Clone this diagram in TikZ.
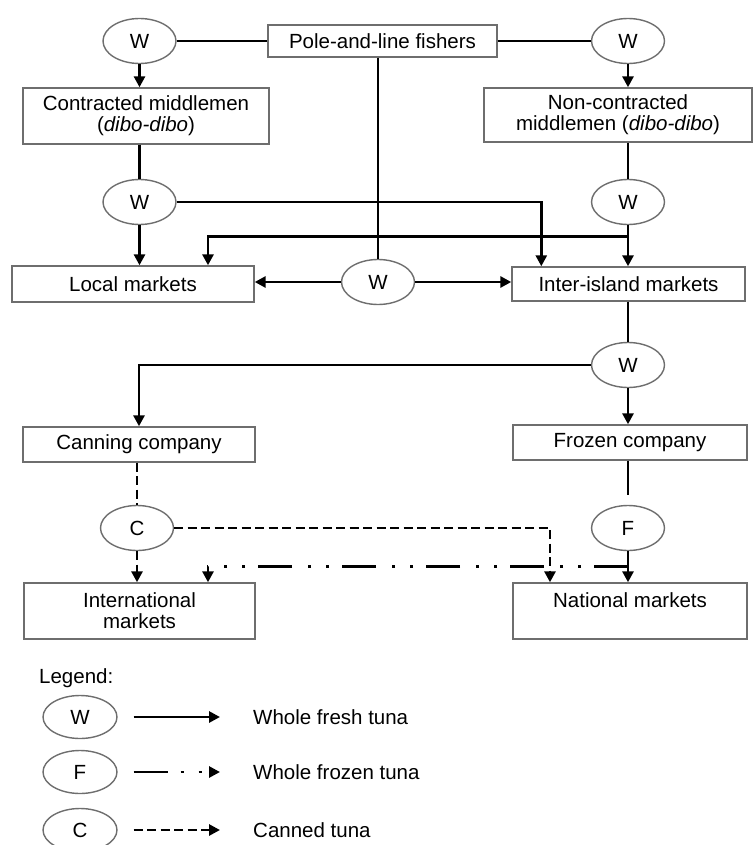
\documentclass[tikz,border=0pt]{standalone}
\usepackage{fontspec}
\setmainfont{Liberation Sans}
\usetikzlibrary{arrows.meta, shapes.geometric, calc}
\definecolor{bGray}{HTML}{6E6E6E}
\tikzset{
  tbox/.style={draw=bGray, line width=1.4pt, rectangle, inner sep=0pt,
               fill=white, align=center, font=\fontsize{20.5}{21}\selectfont},
  tell/.style={draw=bGray, line width=1.4pt, ellipse, minimum width=73pt,
               minimum height=45pt, inner sep=0pt, fill=white,
               font=\fontsize{20.5}{21}\selectfont},
  ltxt/.style={anchor=west, inner sep=0pt, font=\fontsize{20.5}{21}\selectfont},
  wline/.style={line width=2.9pt},
  wflow/.style={wline, -{Triangle[length=11pt,width=11pt]}},
  cline/.style={line width=2.9pt, dash pattern=on 9pt off 4.5pt},
  cflow/.style={cline, -{Triangle[length=11pt,width=11pt]}},
  fline/.style={line width=2.9pt,
                dash pattern=on 34pt off 13pt on 3pt off 15pt on 3pt off 16pt},
  fflow/.style={fline, -{Triangle[length=11pt,width=11pt]}},
}
\begin{document}
\begin{tikzpicture}[x=1pt, y=-1pt]
  \useasboundingbox (0,0) rectangle (754,845);
  % nodes of the chain
  \node[tell] (wTL) at (139.5,41) {W};
  \node[tbox, minimum width=229pt, minimum height=32pt] (fishers) at (382.5,41) {Pole-and-line fishers};
  \node[tell] (wTR) at (628,41) {W};
  \node[tbox, minimum width=246pt, minimum height=56pt] (contr) at (146,116) {Contracted middlemen\\(\textit{dibo-dibo})};
  \node[tbox, minimum width=268pt, minimum height=54pt] (noncontr) at (618,115) {Non-contracted\\middlemen (\textit{dibo-dibo})};
  \node[tell] (wML) at (139.5,202) {W};
  \node[tell] (wMR) at (628,202) {W};
  \node[tbox, minimum width=242pt, minimum height=36pt] (local) at (133,284) {Local markets};
  \node[tell] (wC) at (378,282) {W};
  \node[tbox, minimum width=233pt, minimum height=34pt] (inter) at (628.5,284) {Inter-island markets};
  \node[tell] (wI) at (628,365) {W};
  \node[tbox, minimum width=232pt, minimum height=35pt] (canning) at (139,444.5) {Canning company};
  \node[tbox, minimum width=234pt, minimum height=35pt] (frozen) at (630,442.5) {Frozen company};
  \node[tell] (cC) at (137,528) {C};
  \node[tell] (fF) at (628,528) {F};
  \node[tbox, minimum width=231pt, minimum height=56pt] (intl) at (139.5,611) {International\\markets};
  \node[tbox, minimum width=234pt, minimum height=56pt] (natl) at (630,611) {National markets\\~};
  % whole fresh tuna
  \draw[wline] (wTL) -- (fishers);
  \draw[wline] (fishers) -- (wTR);
  \draw[wflow] (wTL) -- (wTL |- contr.north);
  \draw[wflow] (wTR) -- (wTR |- noncontr.north);
  \draw[wline] (wML |- contr.south) -- (wML);
  \draw[wline] (wMR |- noncontr.south) -- (wMR);
  \draw[wflow] (wML) -- (wML |- local.north);
  \draw[wflow] (wML) -| ([xshift=30pt]inter.north west);
  \draw[wflow] (wMR) -- (wMR |- inter.north);
  \coordinate (split) at ($(wMR.south)!0.27!(wMR |- inter.north)$);
  \draw[wflow] (split) -| ([xshift=75pt]local.north);
  \draw[wline] (fishers.south -| wC) -- (wC);
  \draw[wflow] (wC.west) -- (wC.west -| local.east);
  \draw[wflow] (wC.east) -- (wC.east -| inter.west);
  \draw[wline] (wI |- inter.south) -- (wI);
  \draw[wflow] (wI) -| (canning.north);
  \draw[wflow] (wI) -- (wI |- frozen.north);
  % canned tuna
  \draw[cline] (cC |- canning.south) -- (cC);
  \draw[cflow] (cC) -- (cC |- intl.north);
  \draw[cflow] (cC.east) -| ([xshift=-80pt]natl.north);
  % whole frozen tuna
  \draw[fline] (fF |- frozen.south) -- (fF);
  \draw[fflow] (fF) -- (fF |- natl.north);
  \coordinate (fsplit) at ($(fF.south)!0.5!(fF |- natl.north)$);
  \draw[fflow] (fsplit) -| ([xshift=68.5pt]intl.north);
  % legend
  \node[ltxt] (legend) at (39,678) {Legend:};
  \node[tell, minimum width=74pt, minimum height=43pt] (legW) at (80,717) {W};
  \node[tell, minimum width=74pt, minimum height=43pt] (legF) at (80,772) {F};
  \node[tell, minimum width=74pt, minimum height=43pt] (legC) at (80,830) {C};
  \node[ltxt] (legWt) at (253,717) {Whole fresh tuna};
  \node[ltxt] (legFt) at (253,772) {Whole frozen tuna};
  \node[ltxt] (legCt) at (253,830) {Canned tuna};
  \draw[wflow] ([xshift=16pt]legW.east) -- ([xshift=-33pt]legWt.west);
  \draw[fflow] ([xshift=16pt]legF.east) -- ([xshift=-33pt]legFt.west);
  \draw[cflow] ([xshift=16pt]legC.east) -- ([xshift=-33pt]legCt.west);
\end{tikzpicture}
\end{document}
